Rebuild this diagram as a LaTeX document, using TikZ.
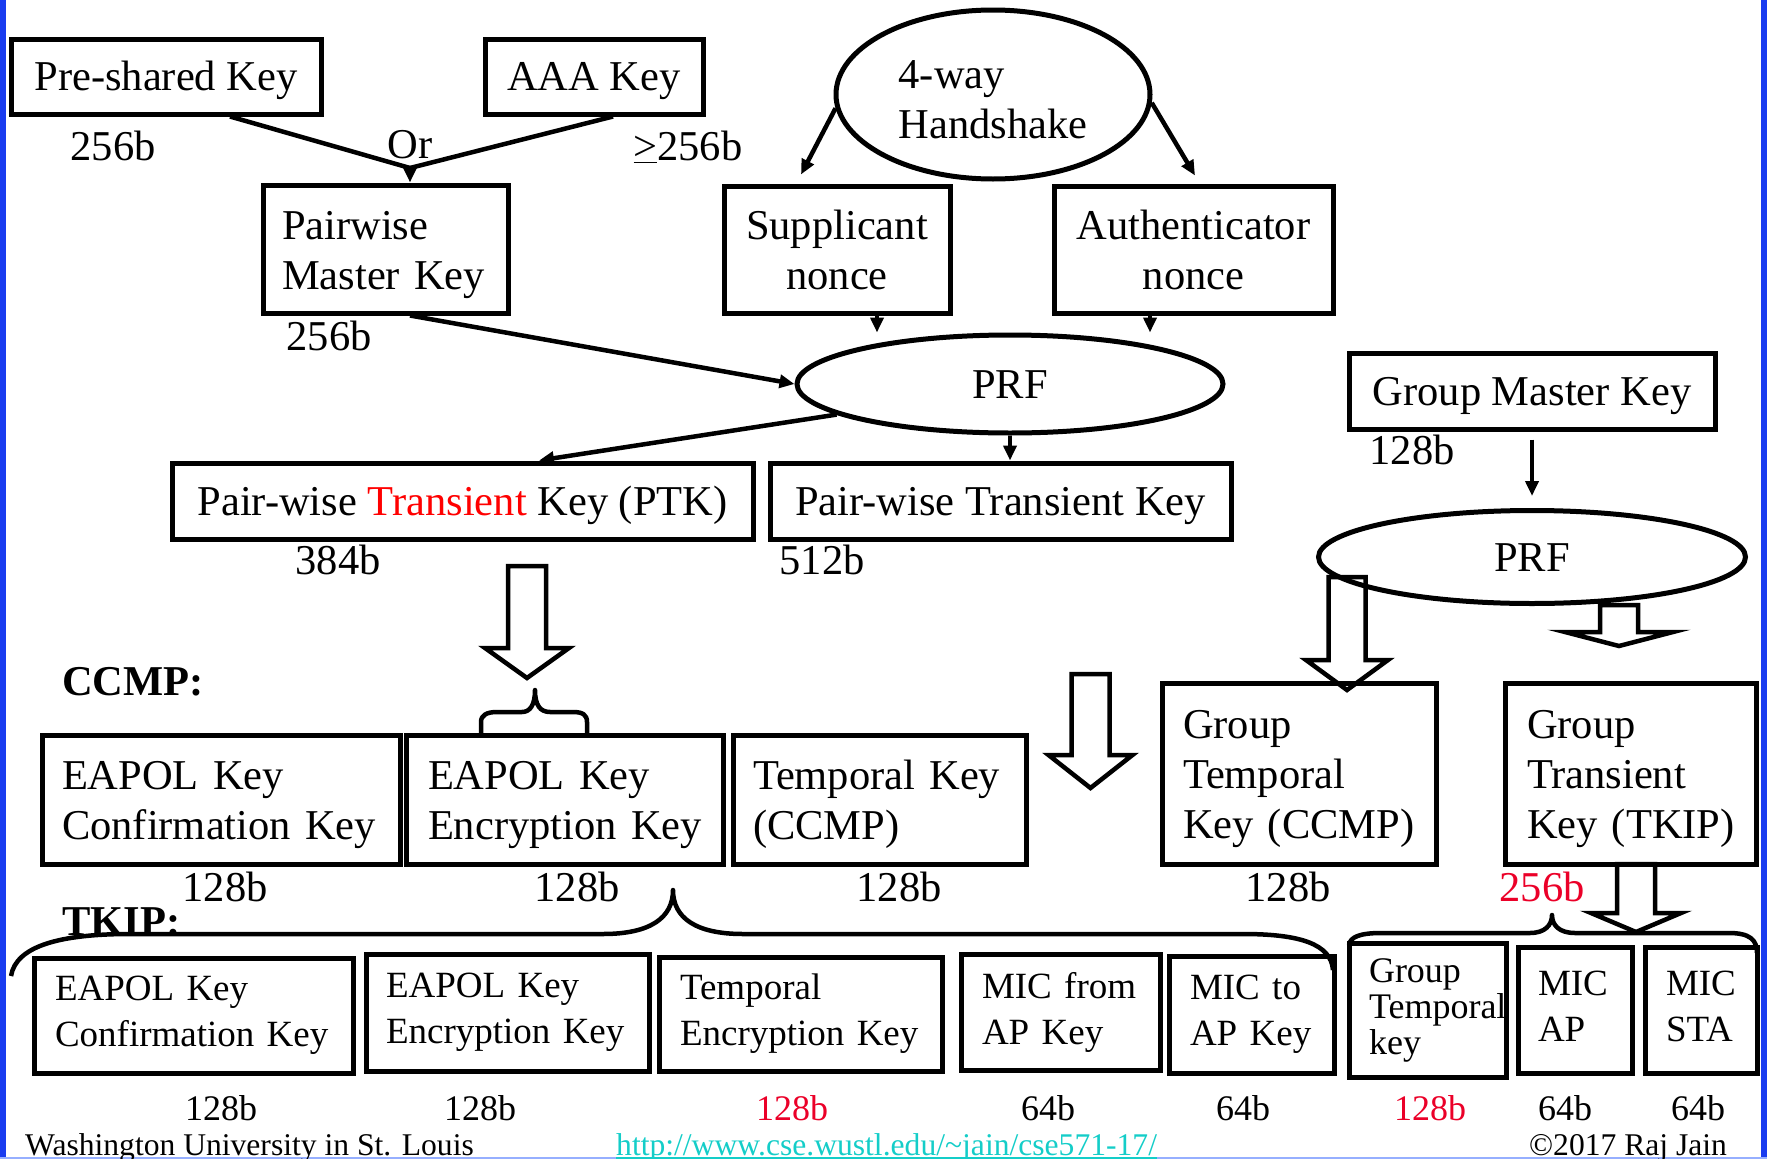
\documentclass[tikz,border=0pt]{standalone}
\usepackage{fontspec}
\setmainfont{Liberation Serif}
\usetikzlibrary{arrows.meta,shapes.geometric}

\definecolor{sizered}{RGB}{235,0,40}
\definecolor{ptkred}{RGB}{255,0,0}
\definecolor{frameblue}{RGB}{25,60,240}
\definecolor{paleblue}{RGB}{150,175,255}
\definecolor{linkcyan}{RGB}{20,205,200}

\newcommand\fbig{\fontsize{42.5pt}{50pt}\selectfont}
\newcommand\fmid{\fontsize{37pt}{46pt}\selectfont}
\newcommand\fsmall{\fontsize{36pt}{36pt}\selectfont}
\newcommand\fbits{\fontsize{36pt}{40pt}\selectfont}
\newcommand\ffoot{\fontsize{31.6pt}{36pt}\selectfont}

% struts that fix the first-line height and last-line depth of stacked box texts
\newcommand\hi{\rule{0pt}{40pt}}
\newcommand\ovhi{\rule{0pt}{48pt}}
\newcommand\lo{\rule[-10pt]{0pt}{10pt}}
\newcommand\tlo{\rule[-8pt]{0pt}{8pt}}

% hollow block arrow: centre x, top y, head start y, tip y, shaft half width, head half width
\newcommand\blockarrow[6]{%
  \draw[barrow] ({#1-#5},#2) -- ({#1-#5},#3) -- ({#1-#6},#3) -- (#1,#4)
    -- ({#1+#6},#3) -- ({#1+#5},#3) -- ({#1+#5},#2) -- cycle;}

\begin{document}
\begin{tikzpicture}[x=1pt,y=-1pt,
  kbox/.style={draw, line width=5pt, inner sep=0pt, font=\fbig},
  onebox/.style={kbox, text height=38pt, text depth=10pt},
  tbox/.style={kbox, font=\fmid},
  oval/.style={draw, ellipse, line width=5pt, inner sep=0pt, font=\fbig},
  lbl/.style={inner sep=0pt, font=\fbig},
  bits/.style={inner sep=0pt, font=\fbits},
  foot/.style={inner sep=0pt, font=\ffoot, anchor=base west},
  ln/.style={line width=4.5pt},
  arr/.style={line width=4.5pt, -{Triangle[length=15pt,width=13pt]}},
  barrow/.style={draw, line width=4.5pt, line join=miter},
  brace/.style={draw, line width=4.5pt, line join=round}]

\useasboundingbox (0,0) rectangle (1767,1159);

% slide frame
\fill[frameblue] (0,0) rectangle (6,1159);
\fill[frameblue] (1761,0) rectangle (1767,1159);
\fill[paleblue] (0,1156.5) rectangle (1767,1159);

% ---- pairwise key hierarchy ----
\node[onebox, minimum width=310pt, minimum height=75pt] (psk) at (166,76.5) {Pre-shared Key};
\node[onebox, minimum width=218pt, minimum height=75pt] (aaa) at (594,76.5) {AAA Key};
\node[kbox, minimum width=245pt, minimum height=128pt, text width=207pt, align=left] (pmk) at (385.5,249) {\hi Pairwise\\\mbox{Master Key}\lo};
\node[lbl] (psklen) at (113,146) {256b};
\node[lbl] (orlbl) at (410,145) {Or};
\node[lbl] (aaalen) at (688,147) {\underline{>}256b};
\node[lbl] (pmklen) at (329,336) {256b};

\node[oval, minimum width=314pt, minimum height=169pt, align=left] (hs) at (993,94.5) {\ovhi 4-way\\Handshake\lo};
\node[kbox, minimum width=226pt, minimum height=127pt, align=center] (sn) at (837,249.5) {\hi Supplicant\\nonce\lo};
\node[kbox, minimum width=279pt, minimum height=127pt, align=center] (an) at (1193.5,249.5) {\hi Authenticator\\nonce\lo};
\node[oval, minimum width=426pt, minimum height=98pt, text height=38pt, text depth=10pt] (prf) at (1010,384) {PRF};

\node[onebox, minimum width=581pt, minimum height=76pt] (ptk) at (462.5,501) {Pair-wise \textcolor{ptkred}{Transient} Key (PTK)};
\node[onebox, minimum width=461pt, minimum height=76pt] (ptkb) at (1000.5,501) {Pair-wise Transient Key};
\node[lbl] (ptklen) at (338,560) {384b};
\node[lbl] (ptkblen) at (822,560) {512b};

% ---- group key hierarchy ----
\node[onebox, minimum width=366pt, minimum height=76pt] (gmk) at (1532,391) {Group Master Key};
\node[lbl] (gmklen) at (1412,450) {128b};
\node[oval, minimum width=427pt, minimum height=93pt, text height=38pt, text depth=10pt] (prfg) at (1532,557) {PRF};

% connectors
\coordinate (orj) at (410,168);
\draw[ln] ([xshift=64pt]psk.south) -- (orj);
\draw[ln] ([xshift=19pt]aaa.south) -- (orj);
\draw[arr] (orj) -- (orj |- pmk.north);
\draw[arr] (orj |- pmk.south) -- (prf.west);
\draw[arr] (hs.185) -- ([xshift=-36pt,yshift=9pt]sn.north);
\draw[arr] (hs.-3) -- ([xshift=1.5pt,yshift=8pt]an.north);
\draw[arr] ([xshift=40pt]sn.south) -- ([xshift=40pt]sn.south |- prf.north);
\draw[arr] ([xshift=-43.5pt]an.south) -- ([xshift=-43.5pt]an.south |- prf.north);
\draw[arr] (prf.190) -- ([xshift=76.5pt]ptk.north);
\draw[arr] (prf.south) -- (prf.south |- ptkb.north);
\draw[arr, shorten <=8pt, shorten >=12pt] (gmk.south) -- (prfg.north);

% hollow arrows
\blockarrow{527}{566}{648}{678}{19}{42}
\blockarrow{1090.5}{674}{755}{788}{19}{42}
\blockarrow{1347}{577}{660}{690}{18.5}{41}
\blockarrow{1619}{605}{632}{646}{19}{54}
\blockarrow{1636}{864}{913}{932}{19}{45}

% ---- CCMP ----
\node[inner sep=0pt, font=\fbig\bfseries, anchor=west] (ccmp) at (62,682) {CCMP:};
\draw[brace] (481,736) -- (481,722) .. controls (481,715) and (487,712) .. (497,712) -- (522,712)
  .. controls (530,712) and (535,705) .. (535,690) .. controls (535,705) and (540,712) .. (550,712)
  -- (573,712) .. controls (583,712) and (587,715) .. (587,722) -- (587,736);

\node[kbox, minimum width=358pt, minimum height=129pt, text width=318pt, align=left] (cck) at (221,799.5) {\hi\mbox{EAPOL Key}\\\mbox{Confirmation Key}\lo};
\node[kbox, minimum width=317pt, minimum height=129pt, text width=273pt, align=left] (cek) at (564.5,799.5) {\hi\mbox{EAPOL Key}\\\mbox{Encryption Key}\lo};
\node[kbox, minimum width=293pt, minimum height=129pt, text width=253pt, align=left] (ctk) at (879.5,799.5) {\hi\mbox{Temporal Key}\\(CCMP)\lo};
\node[kbox, minimum width=274pt, minimum height=181pt, text width=232pt, align=left] (gtc) at (1299,773.5) {\hi Group\\Temporal\\\mbox{Key (CCMP)}\lo};
\node[kbox, minimum width=251pt, minimum height=181pt, text width=207pt, align=left] (gtt) at (1630.5,773.5) {\hi Group\\Transient\\\mbox{Key (TKIP)}\lo};

\node[lbl] (ccklen) at (225,887) {128b};
\node[lbl] (ceklen) at (577,887) {128b};
\node[lbl] (ctklen) at (899,887) {128b};
\node[lbl] (gtclen) at (1288,887) {128b};
\node[lbl, text=sizered] (gttlen) at (1542,887) {256b};

% ---- TKIP ----
\node[inner sep=0pt, font=\fbig\bfseries, anchor=west] (tkip) at (62,922) {TKIP:};
\draw[brace] (11,976) .. controls (16,946) and (60,934) .. (130,934) -- (603,934)
  .. controls (650,934) and (673,918) .. (673,890) .. controls (673,918) and (696,934) .. (743,934)
  -- (1243,934) .. controls (1300,934) and (1331,944) .. (1333,970);
\draw[brace] (1349,945) .. controls (1350,937) and (1360,933) .. (1381,933) -- (1530,933)
  .. controls (1545,933) and (1552,925) .. (1552,915) .. controls (1552,925) and (1559,933) .. (1575,933)
  -- (1729,933) .. controls (1750,933) and (1757,940) .. (1757,953);

\node[tbox, minimum width=319pt, minimum height=115pt, text width=277pt, align=left] (tck) at (193.5,1015.5) {\mbox{EAPOL Key}\\\mbox{Confirmation Key}\tlo};
\node[tbox, minimum width=283pt, minimum height=117pt, text width=243pt, align=left] (tek) at (507.5,1012.5) {\mbox{EAPOL Key}\\\mbox{Encryption Key}\tlo};
\node[tbox, minimum width=283pt, minimum height=114pt, text width=241pt, align=left] (tte) at (800.5,1014) {Temporal\\\mbox{Encryption Key}\tlo};
\node[tbox, minimum width=199pt, minimum height=116pt, text width=157pt, align=left] (mfa) at (1060.5,1012) {\mbox{MIC from}\\\mbox{AP Key}\tlo};
\node[tbox, minimum width=165pt, minimum height=117pt, text width=123pt, align=left] (mta) at (1251.5,1014.5) {\mbox{MIC to}\\\mbox{AP Key}\tlo};
\node[kbox, font=\fsmall, minimum width=157pt, minimum height=134pt, text width=117pt, align=left] (gtk) at (1427.5,1010) {Group\\\mbox{Temporal}\\key};
\node[tbox, minimum width=114pt, minimum height=126pt, text width=74pt, align=left] (mica) at (1575,1010) {MIC\\AP\tlo};
\node[tbox, minimum width=112pt, minimum height=126pt, text width=70pt, align=left] (mics) at (1701,1010) {MIC\\STA\tlo};

\node[bits] (tcklen) at (221,1108) {128b};
\node[bits] (teklen) at (480,1108) {128b};
\node[bits, text=sizered] (ttelen) at (792,1108) {128b};
\node[bits] (mfalen) at (1048,1108) {64b};
\node[bits] (mtalen) at (1243,1108) {64b};
\node[bits, text=sizered] (gtklen) at (1430,1108) {128b};
\node[bits] (micalen) at (1565,1108) {64b};
\node[bits] (micslen) at (1698,1108) {64b};

% footer
\node[foot] (univ) at (25,1155) {Washington University in St. Louis};
\node[foot, text=linkcyan] (url) at (616,1155) {http://www.cse.wustl.edu/\textasciitilde jain/cse571-17/};
\draw[linkcyan, line width=2.5pt] (url.base west) ++(0,3) -- ([yshift=-3pt]url.base east);
\node[foot] (copy) at (1529,1155) {\textcopyright 2017 Raj Jain};

\end{tikzpicture}
\end{document}
